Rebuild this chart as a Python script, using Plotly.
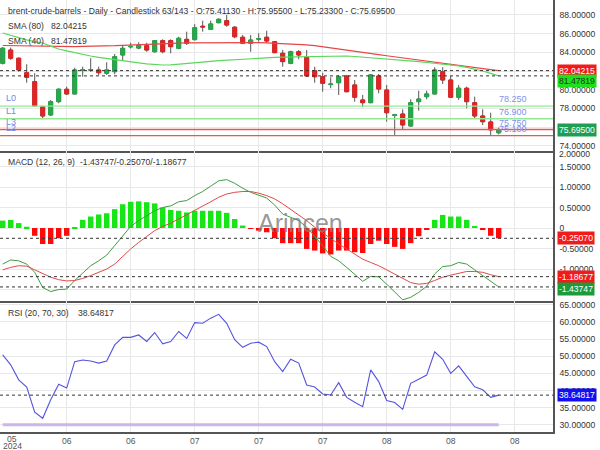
import plotly.graph_objects as go

# ---------------- data ----------------
N = 63
IDX = list(range(N))

OPEN = [82.82, 84.24, 83.36, 81.82, 80.86, 78.19, 77.31, 78.73, 80.05, 79.55,
        82.08, 82.10, 82.11, 81.76, 81.93, 83.71, 84.58, 84.45, 84.70, 84.06,
        85.24, 85.24, 84.42, 85.38, 85.35, 86.78, 86.45, 87.16, 87.37, 86.67,
        85.60, 84.96, 85.40, 85.60, 85.13, 83.89, 82.82, 84.06, 83.46, 82.03,
        81.39, 80.55, 80.75, 81.47, 80.51, 78.91, 78.62, 81.47, 79.97, 77.25,
        77.41, 76.13, 78.73, 79.26, 79.55, 81.93, 81.04, 79.20, 80.16, 78.62,
        77.20, 76.56, 75.4113]
HIGH = [84.55, 84.50, 83.45, 82.72, 81.76, 78.30, 78.91, 80.16, 80.33, 82.35,
        82.46, 83.36, 82.46, 82.93, 83.82, 84.78, 85.02, 85.07, 85.02, 85.31,
        85.38, 85.38, 85.66, 86.20, 87.00, 87.37, 87.37, 87.63, 87.98, 86.80,
        85.84, 85.84, 86.03, 86.30, 85.20, 84.24, 84.17, 84.24, 84.24, 82.46,
        81.82, 81.33, 81.58, 81.58, 81.04, 79.44, 81.68, 81.68, 80.51, 77.42,
        77.91, 78.98, 79.90, 79.90, 82.40, 82.40, 81.47, 80.51, 80.33, 79.26,
        77.91, 77.55, 75.955]
LOW = [82.70, 83.18, 81.93, 80.75, 78.19, 76.85, 77.20, 78.56, 79.44, 79.52,
       81.39, 81.93, 81.58, 81.58, 81.65, 83.10, 84.40, 84.32, 84.06, 83.96,
       83.89, 83.89, 84.32, 84.78, 85.25, 86.20, 86.38, 87.09, 86.73, 85.49,
       84.88, 84.06, 85.13, 85.02, 83.89, 82.46, 82.72, 83.25, 81.39, 80.75,
       79.79, 80.16, 79.44, 79.73, 78.73, 78.13, 78.56, 79.62, 76.59, 75.17,
       75.71, 76.06, 77.77, 78.98, 79.50, 80.61, 79.15, 78.91, 78.02, 76.95,
       76.24, 75.17, 75.233]
CLOSE = [84.43, 83.36, 82.11, 81.33, 78.27, 77.20, 78.73, 80.05, 79.55, 82.11,
         82.12, 82.13, 81.82, 82.11, 83.53, 84.42, 84.62, 84.75, 84.24, 85.24,
         84.06, 84.60, 85.49, 84.96, 86.62, 86.70, 87.02, 87.52, 86.91, 85.66,
         84.96, 85.31, 85.44, 85.20, 83.96, 83.00, 84.06, 83.71, 81.47, 81.39,
         80.69, 80.60, 81.39, 79.79, 79.20, 78.62, 81.58, 80.08, 77.55, 77.32,
         76.24, 78.62, 79.01, 79.55, 82.11, 81.04, 79.20, 80.16, 78.73, 77.20,
         76.59, 75.71, 75.695]

SMA80 = [84.72, 84.70, 84.68, 84.66, 84.64, 84.63, 84.62, 84.61, 84.61, 84.61,
         84.62, 84.62, 84.63, 84.66, 84.70, 84.74, 84.78, 84.83, 84.88, 84.91,
         84.94, 84.96, 84.98, 85.00, 85.01, 85.02, 85.03, 85.04, 85.05, 85.05,
         85.05, 85.04, 85.02, 85.00, 84.97, 84.94, 84.91, 84.87, 84.80, 84.71,
         84.60, 84.48, 84.36, 84.24, 84.12, 84.00, 83.88, 83.75, 83.63, 83.51,
         83.39, 83.28, 83.16, 83.04, 82.93, 82.81, 82.70, 82.59, 82.48, 82.37,
         82.26, 82.15, 82.04215]
SMA40 = [86.06, 85.80, 85.52, 85.33, 85.15, 84.99, 84.65, 84.35, 84.15, 83.95,
         83.77, 83.60, 83.45, 83.32, 83.20, 83.07, 82.96, 82.86, 82.77, 82.70,
         82.64, 82.66, 82.72, 82.80, 82.88, 82.96, 83.03, 83.10, 83.16, 83.22,
         83.28, 83.34, 83.38, 83.42, 83.45, 83.48, 83.50, 83.52, 83.55, 83.57,
         83.59, 83.60, 83.61, 83.60, 83.55, 83.49, 83.43, 83.37, 83.31, 83.25,
         83.18, 83.09, 83.00, 82.91, 82.84, 82.77, 82.70, 82.55, 82.39, 82.22,
         82.00, 81.75, 81.47819]

MACD_LINE = [-0.88, -0.78, -0.80, -0.88, -1.08, -1.45, -1.55, -1.50, -1.49, -1.28,
             -1.10, -0.92, -0.80, -0.66, -0.43, -0.20, 0.04, 0.18, 0.30, 0.42,
             0.50, 0.54, 0.64, 0.67, 0.79, 0.89, 1.02, 1.15, 1.18, 1.09,
             0.97, 0.87, 0.80, 0.73, 0.56, 0.34, 0.26, 0.18, 0.02, -0.20,
             -0.43, -0.69, -0.80, -0.96, -1.12, -1.30, -1.18, -1.19, -1.37, -1.55,
             -1.75, -1.69, -1.57, -1.42, -1.12, -0.94, -0.92, -0.84, -0.88, -1.02,
             -1.16, -1.31, -1.43747]
MACD_SIGNAL = [-1.02, -0.96, -0.92, -0.93, -1.02, -1.12, -1.20, -1.26, -1.29, -1.28,
               -1.23, -1.16, -1.08, -1.00, -0.88, -0.69, -0.51, -0.35, -0.20, -0.065,
               0.04, 0.12, 0.22, 0.32, 0.42, 0.53, 0.64, 0.75, 0.83, 0.87,
               0.89, 0.89, 0.85, 0.79, 0.71, 0.59, 0.46, 0.33, 0.18, 0.02,
               -0.12, -0.27, -0.39, -0.51, -0.63, -0.76, -0.84, -0.92, -1.02, -1.12,
               -1.24, -1.33, -1.37, -1.35, -1.28, -1.20, -1.15, -1.10, -1.06, -1.06,
               -1.08, -1.14, -1.18677]
MACD_HIST = [0.18, 0.195, 0.12, 0.03, -0.19, -0.39, -0.39, -0.25, -0.19, 0.015,
             0.20, 0.28, 0.33, 0.36, 0.46, 0.58, 0.64, 0.65, 0.63, 0.60,
             0.50, 0.44, 0.42, 0.38, 0.42, 0.42, 0.42, 0.42, 0.37, 0.22,
             0.06, -0.02, -0.065, -0.105, -0.25, -0.37, -0.37, -0.37, -0.51, -0.55,
             -0.62, -0.645, -0.55, -0.55, -0.59, -0.61, -0.39, -0.31, -0.39, -0.46,
             -0.51, -0.37, -0.20, -0.04, 0.20, 0.32, 0.28, 0.28, 0.20, 0.05,
             -0.05, -0.19, -0.2507]

RSI = [50.4, 47.5, 43.1, 41.0, 33.7, 31.9, 37.3, 41.8, 40.7, 48.4,
       48.9, 48.6, 48.0, 48.6, 53.3, 55.5, 55.5, 56.2, 54.3, 56.9,
       53.6, 54.3, 57.2, 55.2, 59.8, 59.6, 61.1, 62.2, 59.6, 54.8,
       52.6, 53.8, 54.1, 52.8, 48.4, 45.5, 49.1, 48.0, 41.6, 41.0,
       39.0, 38.7, 42.3, 38.0, 36.6, 35.3, 46.0, 42.6, 37.1, 36.5,
       34.5, 42.1, 43.3, 44.5, 51.3, 49.1, 45.0, 47.2, 44.1, 41.1,
       40.2, 38.0, 38.64817]
RSI_LOW = 30

LEVELS = [78.25, 76.90, 75.75, 75.10]
LEVEL_NAMES = ["L0", "L1", "L3", "L2"]
LEVEL_TEXT = ["78.250", "76.900", "75.750", "75.100"]
LEVEL_COLORS = ["#93e893", "#93e893", "#e05a5a", "#e05a5a"]

XTICK_POS = [8, 16, 24, 32, 40, 48, 56, 64]
XTICK_TEXT = ["06", "06", "07", "07", "07", "08", "08", "08"]
FIRST_MONTH = "05"
FIRST_YEAR = "2024"

TITLE = "brent-crude-barrels - Daily - Candlestick"
OHLC_TEXT = "63/143 - O:75.41130 - H:75.95500 - L:75.23300 - C:75.69500"
SMA80_LABEL, SMA80_VAL = "SMA (80)", "82.04215"
SMA40_LABEL, SMA40_VAL = "SMA (40)", "81.47819"
MACD_LABEL, MACD_VAL = "MACD (12, 26, 9)", "-1.43747/-0.25070/-1.18677"
RSI_LABEL, RSI_VAL = "RSI (20, 70, 30)", "38.64817"

# ---------------- layout geometry ----------------
W, H = 600, 450
PW, PH = 553, 432           # plot area (px)
FONT = "Liberation Sans, Arial, sans-serif"
FS = 8.6
GREEN = "#27a84a"
RED = "#e22424"
GRID = "#e8e8e8"
AX = "#555555"

def py(p):
    return 1 - p / PH

def px(p):
    return p / PW

XR = [-0.3375, -0.3375 + PW / 8.0]

fig = go.Figure()

# candles: wick layer + body layer
fig.add_trace(go.Candlestick(
    x=IDX, open=OPEN, high=HIGH, low=LOW, close=CLOSE,
    increasing=dict(line=dict(color="#555555", width=1), fillcolor=GREEN),
    decreasing=dict(line=dict(color="#555555", width=1), fillcolor=RED),
    whiskerwidth=0, showlegend=False, hoverinfo="skip", xaxis="x", yaxis="y"))
BODY_HI = [max(o, c) for o, c in zip(OPEN, CLOSE)]
BODY_LO = [min(o, c) for o, c in zip(OPEN, CLOSE)]
fig.add_trace(go.Candlestick(
    x=IDX, open=OPEN, high=BODY_HI, low=BODY_LO, close=CLOSE,
    increasing=dict(line=dict(color=GREEN, width=1), fillcolor=GREEN),
    decreasing=dict(line=dict(color=RED, width=1), fillcolor=RED),
    whiskerwidth=0, showlegend=False, hoverinfo="skip", xaxis="x", yaxis="y"))

fig.add_trace(go.Scatter(x=IDX, y=SMA80, mode="lines", line=dict(color="#e64646", width=1.2),
                         showlegend=False, xaxis="x", yaxis="y"))
fig.add_trace(go.Scatter(x=IDX, y=SMA40, mode="lines", line=dict(color="#5cd65c", width=1.2),
                         showlegend=False, xaxis="x", yaxis="y"))

# MACD
fig.add_trace(go.Bar(x=IDX, y=MACD_HIST, width=0.68,
                     marker=dict(color=["#16e616" if v >= 0 else "#ff0a0a" for v in MACD_HIST],
                                 line=dict(width=0)),
                     showlegend=False, xaxis="x2", yaxis="y2"))
fig.add_trace(go.Scatter(x=IDX, y=MACD_LINE, mode="lines", line=dict(color="#3f9c3f", width=1),
                         showlegend=False, xaxis="x2", yaxis="y2"))
fig.add_trace(go.Scatter(x=IDX, y=MACD_SIGNAL, mode="lines", line=dict(color="#e34848", width=1),
                         showlegend=False, xaxis="x2", yaxis="y2"))

# RSI
fig.add_trace(go.Scatter(x=IDX, y=[RSI_LOW] * N, mode="lines", line=dict(color="#cbb6ea", width=3),
                         showlegend=False, xaxis="x3", yaxis="y3"))
fig.add_trace(go.Scatter(x=IDX, y=RSI, mode="lines", line=dict(color="#5454e0", width=1.1),
                         showlegend=False, xaxis="x3", yaxis="y3"))

shapes = []
for lv, col in zip(LEVELS, LEVEL_COLORS):
    shapes.append(dict(type="line", xref="x domain", yref="y", x0=0, x1=1, y0=lv, y1=lv,
                       line=dict(color=col, width=1.4)))
for yref, val in [("y", SMA80[-1]), ("y", SMA40[-1]),
                  ("y2", MACD_HIST[-1]), ("y2", MACD_SIGNAL[-1]), ("y2", MACD_LINE[-1]),
                  ("y3", RSI[-1])]:
    shapes.append(dict(type="line", xref="x domain" if yref == "y" else yref.replace("y", "x") + " domain",
                       yref=yref, x0=0, x1=1, y0=val, y1=val,
                       line=dict(color="#333333", width=1, dash="3px,3px")))

ann = []

def txt(x, y, s, color="#333333", size=FS, xanchor="left", yanchor="middle", xref="paper", yref="paper", **kw):
    ann.append(dict(x=x, y=y, xref=xref, yref=yref, text=s, showarrow=False,
                    xanchor=xanchor, yanchor=yanchor,
                    font=dict(family=FONT, size=size, color=color), **kw))

txt(px(6), py(10.7), TITLE)
txt(px(160), py(10.7), OHLC_TEXT)
txt(px(6), py(25.7), SMA80_LABEL)
txt(px(49), py(25.7), SMA80_VAL)
txt(px(6), py(40.7), SMA40_LABEL)
txt(px(49), py(40.7), SMA40_VAL)
txt(px(6), py(161.7), MACD_LABEL)
txt(px(78), py(161.7), MACD_VAL)
txt(px(6), py(312.7), RSI_LABEL)
txt(px(76), py(312.7), RSI_VAL)

for lv, nm, t in zip(LEVELS, LEVEL_NAMES, LEVEL_TEXT):
    txt(px(4), lv, nm, color="#6f86e8", size=9, yref="y", yanchor="bottom", yshift=1)
    txt(61.8, lv, t, color="#7f92ee", size=9, xref="x", yref="y", yanchor="bottom")

txt(px(300), py(223), "Arincen", color="rgba(125,125,125,0.8)", size=25, xanchor="center")

txt(1, py(-3), "90.00000", xshift=4)
txt(1, py(154), "2.00000", xshift=4)

def box(val, yref, s, bg, fc="#ffffff", yshift=0):
    ann.append(dict(x=1, y=val, xref="paper", yref=yref, text=s, showarrow=False,
                    xanchor="left", yanchor="middle", xshift=4, yshift=yshift,
                    bgcolor=bg, borderpad=1,
                    font=dict(family=FONT, size=FS, color=fc)))

box(SMA80[-1], "y", SMA80_VAL, "#f21b1b")
box(SMA40[-1], "y", SMA40_VAL, "#1ee01e", fc="#1a3a1a", yshift=-5.5)
box(CLOSE[-1], "y", "75.69500", "#1f9d55")
box(MACD_HIST[-1], "y2", "-0.25070", "#f21b1b")
box(MACD_SIGNAL[-1], "y2", "-1.18677", "#f21b1b")
box(MACD_LINE[-1], "y2", "-1.43747", "#1c9a3c", yshift=-1.8)
box(RSI[-1], "y3", RSI_VAL, "#1010f0")

txt(1.2, py(438.5), FIRST_MONTH, color="#555555", size=FS, xref="x3", xanchor="center")
txt(1.2, py(446), FIRST_YEAR, color="#555555", size=FS, xref="x3", xanchor="center")

tickfont = dict(family=FONT, size=FS, color="#333333")

def xaxis(anchor, labels):
    return dict(domain=[0, 1], anchor=anchor, range=XR, showgrid=True, gridcolor=GRID,
                tickmode="array", tickvals=XTICK_POS, ticktext=XTICK_TEXT,
                showticklabels=labels, ticks="", showline=True, linecolor=AX, linewidth=1.5,
                zeroline=False, rangeslider=dict(visible=False), fixedrange=True,
                automargin=False,
                tickfont=dict(family=FONT, size=FS, color="#555555"))

def yaxis(anchor, dom, rng, **kw):
    d = dict(domain=dom, anchor=anchor, range=rng, side="right", showgrid=True, gridcolor=GRID,
             ticks="", ticklabelstandoff=3, showline=True, linecolor=AX, linewidth=1.5,
             zeroline=False, tickfont=tickfont, fixedrange=True, automargin=False)
    d.update(kw)
    return d

D1 = [py(151), 1]
D2 = [py(301), py(151)]
D3 = [0, py(301)]

fig.update_layout(
    width=W, height=H, margin=dict(l=0, r=W - PW, t=0, b=H - PH),
    paper_bgcolor="white", plot_bgcolor="white",
    showlegend=False, bargap=0.3,
    xaxis=xaxis("y", False),
    xaxis2=xaxis("y2", False),
    xaxis3=xaxis("y3", True),
    yaxis=yaxis("x", D1, [73.46, 89.58], tickmode="array",
                tickvals=[74, 76, 78, 80, 82, 84, 86, 88],
                ticktext=["74.00000", "76.00000", "78.00000", "80.00000", "82.00000",
                          "84.00000", "86.00000", "88.00000"]),
    yaxis2=yaxis("x2", D2, [-1.78, 1.878], tickmode="array",
                 tickvals=[-1.5, -1, -0.5, 0, 0.5, 1, 1.5],
                 ticktext=["-1.50000", "-1.00000", "-0.50000", "0", "0.50000", "1.00000", "1.50000"]),
    yaxis3=yaxis("x3", D3, [27.9, 66.1], tickmode="array",
                 tickvals=[30, 35, 40, 45, 50, 55, 60, 65],
                 ticktext=["30.00000", "35.00000", "40.00000", "45.00000", "50.00000",
                           "55.00000", "60.00000", "65.00000"]),
    shapes=shapes, annotations=ann,
)

fig.write_html("out.html", config={"displayModeBar": False},
               post_script="document.body.style.margin='0';document.body.style.overflow='hidden';")
